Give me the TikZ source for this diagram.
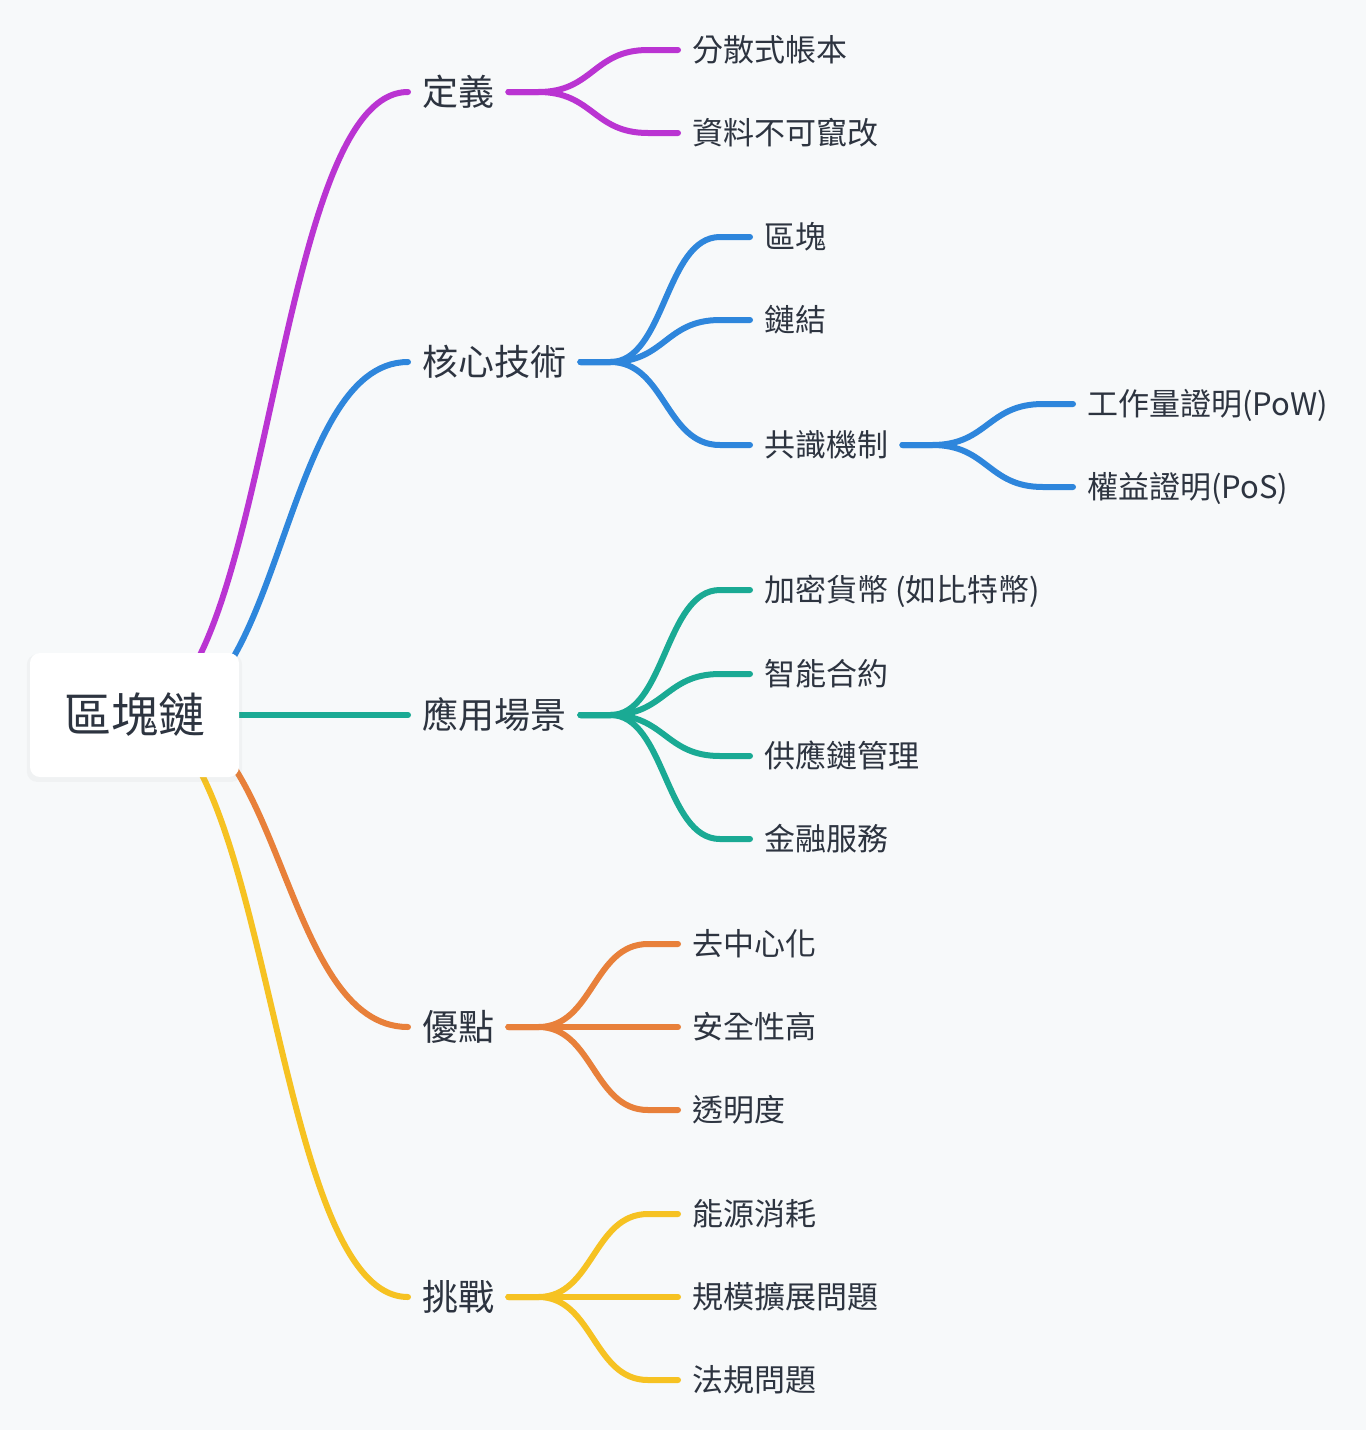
\documentclass[tikz,border=0pt]{standalone}
\usepackage{fontspec}
\setmainfont{Noto Sans CJK TC}
\usetikzlibrary{backgrounds,shadows,calc}
\definecolor{bgc}{RGB}{247,249,250}
\definecolor{txt}{RGB}{45,52,64}
\definecolor{cmag}{RGB}{186,52,210}
\definecolor{cblue}{RGB}{46,134,220}
\definecolor{cteal}{RGB}{26,170,148}
\definecolor{corange}{RGB}{232,128,58}
\definecolor{cyellow}{RGB}{246,194,34}
\begin{document}
\begin{tikzpicture}[x=1pt,y=-1pt,
  lvtwo/.style={anchor=west, inner xsep=14pt, inner ysep=0pt, text=txt,
    font=\fontsize{36}{40}\selectfont, text height=31.7pt, text depth=4.3pt},
  lvthree/.style={anchor=west, inner xsep=14pt, inner ysep=0pt, text=txt,
    font=\fontsize{31}{36}\selectfont, text height=27.3pt, text depth=3.7pt},
  rootbox/.style={fill=white, rounded corners=10pt, minimum width=209pt,
    minimum height=124pt, inner sep=0pt, text=txt,
    font=\fontsize{47}{52}\selectfont, text height=41.4pt, text depth=5.6pt,
    drop shadow={opacity=0.05, shadow xshift=0pt, shadow yshift=-3pt, shadow scale=1.03}},
  link/.style={line width=6pt, line cap=round, line join=round,
    to path={let \p1=(\tikztostart), \p2=(\tikztotarget) in
      .. controls ({(\x1+\x2)/2},\y1) and ({(\x1+\x2)/2},\y2) .. (\tikztotarget)}},
  sublink/.style={line width=6pt, line cap=round, line join=round,
    to path={let \p1=(\tikztostart), \p2=(\tikztotarget) in
      -- ({\x1+30pt},\y1)
      .. controls ({(\x1+\x2)/2},\y1) and ({(\x1+\x2)/2},\y2) .. ({\x2-30pt},\y2)
      -- (\tikztotarget)}},
]
\useasboundingbox (0,0) rectangle (1366,1430);

% root
\node[rootbox] (root) at (134.5,715) {區塊鏈};

% level 2
\node[lvtwo] (def)  at (408,92)   {定義};
\node[lvtwo] (tech) at (408,362)  {核心技術};
\node[lvtwo] (app)  at (408,715)  {應用場景};
\node[lvtwo] (adv)  at (408,1027) {優點};
\node[lvtwo] (chal) at (408,1297) {挑戰};

% level 3
\node[lvthree] (d1) at (678,50)  {分散式帳本};
\node[lvthree] (d2) at (678,133) {資料不可竄改};

\node[lvthree] (t1) at (750,237) {區塊};
\node[lvthree] (t2) at (750,320) {鏈結};
\node[lvthree] (t3) at (750,445) {共識機制};
\node[lvthree] (c1) at (1073,404) {工作量證明(PoW)};
\node[lvthree] (c2) at (1073,487) {權益證明(PoS)};

\node[lvthree] (a1) at (750,590) {加密貨幣 (如比特幣)};
\node[lvthree] (a2) at (750,674) {智能合約};
\node[lvthree] (a3) at (750,756) {供應鏈管理};
\node[lvthree] (a4) at (750,839) {金融服務};

\node[lvthree] (v1) at (678,944)  {去中心化};
\node[lvthree] (v2) at (678,1027) {安全性高};
\node[lvthree] (v3) at (678,1110) {透明度};

\node[lvthree] (h1) at (678,1214) {能源消耗};
\node[lvthree] (h2) at (678,1297) {規模擴展問題};
\node[lvthree] (h3) at (678,1380) {法規問題};

% root links (under the root box)
\begin{scope}[on background layer]
  \fill[bgc] (0,0) rectangle (1366,1430);
  \draw[link,cmag]    (root.center) to (def.west);
  \draw[link,cblue]   ([xshift=23pt]root.center) to (tech.west);
  \draw[link,cteal]   (root.center) to (app.west);
  \draw[link,corange] ([xshift=23pt]root.center) to (adv.west);
  \draw[link,cyellow] (root.center) to (chal.west);
\end{scope}

% branch links
\draw[sublink,cmag] (def.east) to (d1.west);
\draw[sublink,cmag] (def.east) to (d2.west);

\draw[sublink,cblue] (tech.east) to (t1.west);
\draw[sublink,cblue] (tech.east) to (t2.west);
\draw[sublink,cblue] (tech.east) to (t3.west);
\draw[sublink,cblue] (t3.east) to (c1.west);
\draw[sublink,cblue] (t3.east) to (c2.west);

\draw[sublink,cteal] (app.east) to (a1.west);
\draw[sublink,cteal] (app.east) to (a2.west);
\draw[sublink,cteal] (app.east) to (a3.west);
\draw[sublink,cteal] (app.east) to (a4.west);

\draw[sublink,corange] (adv.east) to (v1.west);
\draw[sublink,corange] (adv.east) to (v2.west);
\draw[sublink,corange] (adv.east) to (v3.west);

\draw[sublink,cyellow] (chal.east) to (h1.west);
\draw[sublink,cyellow] (chal.east) to (h2.west);
\draw[sublink,cyellow] (chal.east) to (h3.west);
\end{tikzpicture}
\end{document}
